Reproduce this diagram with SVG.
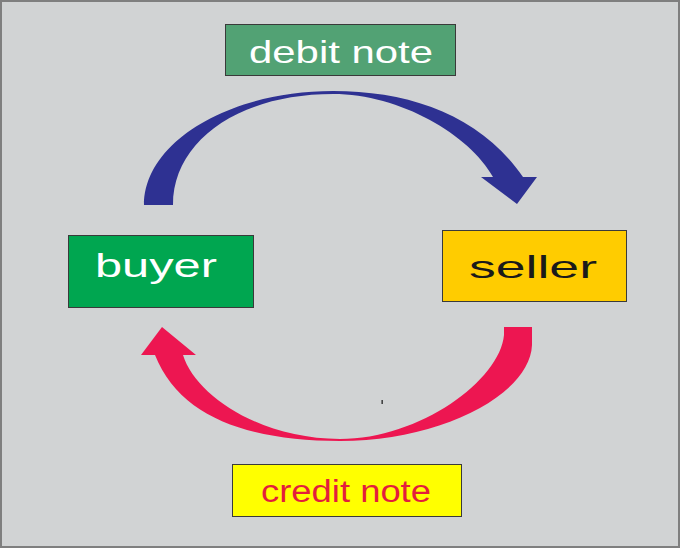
<svg xmlns="http://www.w3.org/2000/svg" width="680" height="548" viewBox="0 0 680 548">
<style>
.box{stroke:#3a3a3a;stroke-width:1}
.lbl{font-family:"Liberation Sans",Arial,sans-serif}
</style>
<rect x="1" y="1" width="678" height="546" fill="#d1d3d4" stroke="#7f7f7f" stroke-width="2"/>
<g id="connectors">
<path id="debit-arrow" fill="#2e3192" d="M144,205 C144,142 229,91 333,91 C410,91 480,115 523,177 L537,177 L517,204 L481,177 L493,177 C470,135 400,94 333,94 C240,94 173,140 173,205 Z"/>
<path id="credit-arrow" fill="#ed1651" d="M504,327 L532,327 L532,345 C530,395 440,441 340,441 C250,441 180,418 155,355 L141,355 L162,327 L196,355 L183,355 C195,395 260,439 340,439 C420,439 500,380 504,335 Z"/>
</g>
<rect x="381.5" y="400" width="1.3" height="4" fill="#222"/>
<g id="debit-note">
<rect class="box" x="225.5" y="24.5" width="230" height="51" fill="#52a274"/>
<text class="lbl" x="249" y="63" font-size="32" fill="#ffffff" textLength="184" lengthAdjust="spacingAndGlyphs">debit note</text>
</g>
<g id="buyer">
<rect class="box" x="68.5" y="235.5" width="185" height="72" fill="#00a650"/>
<text class="lbl" x="95" y="277" font-size="33" fill="#ffffff" textLength="122" lengthAdjust="spacingAndGlyphs">buyer</text>
</g>
<g id="seller">
<rect class="box" x="442.5" y="230.5" width="184" height="71" fill="#ffcc00"/>
<text class="lbl" x="469" y="278" font-size="32" fill="#1a1a1a" textLength="128" lengthAdjust="spacingAndGlyphs">seller</text>
</g>
<g id="credit-note">
<rect class="box" x="232.5" y="464.5" width="229" height="52" fill="#ffff00"/>
<text class="lbl" x="261" y="502" font-size="31" fill="#e31e3c" textLength="170" lengthAdjust="spacingAndGlyphs">credit note</text>
</g>
</svg>
